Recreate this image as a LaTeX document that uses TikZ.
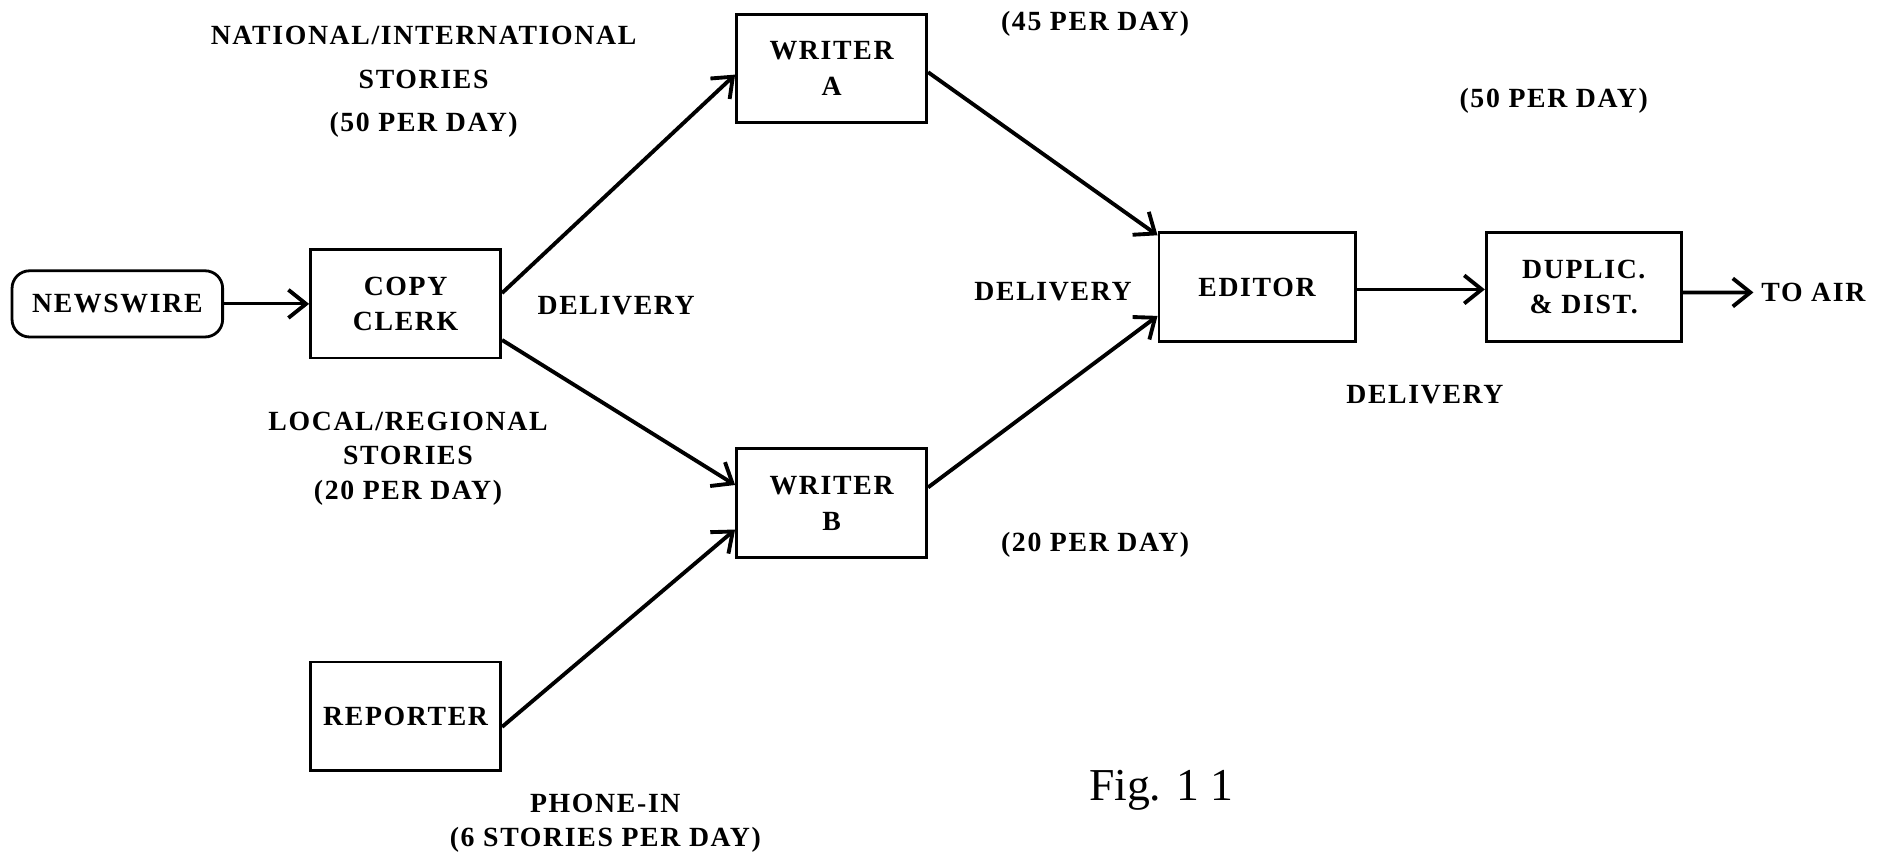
\documentclass[tikz,border=0pt]{standalone}
\usepackage{fontspec}
\setmainfont{Liberation Serif}
\newfontfamily\labfont[LetterSpace=6]{Liberation Serif}
\usetikzlibrary{arrows.meta,calc}
\tikzset{
  lab/.style={align=center, inner sep=0pt, font=\labfont\bfseries\fontsize{7.9}{10.2}\selectfont},
  box/.style={draw, line width=0.8pt, align=center, inner sep=0pt,
    minimum width={158*0.012034cm}, minimum height={90*0.012034cm},
    font=\labfont\bfseries\fontsize{7.9}{10.2}\selectfont},
  arr/.style={-{Straight Barb[length=5pt,width=8pt,line width=1.1pt]}, line width=1.1pt},
}
\begin{document}
\begin{tikzpicture}[x=0.012034cm, y=-0.012034cm]
\useasboundingbox (0,0) rectangle (1568,711);
% boxes
\node[box, rounded corners=5pt, minimum width={175*0.012034cm}, minimum height={55*0.012034cm}] (nw) at (97.5,252.5) {NEWSWIRE};
\node[box] (cc) at (337,252.5) {COPY\\CLERK};
\node[box] (wa) at (691,57) {WRITER\\A};
\node[box] (wb) at (691,418) {WRITER\\B};
\node[box] (rep) at (337,595) {REPORTER};
\node[box, minimum width={163*0.012034cm}, minimum height={91*0.012034cm}] (ed) at (1044.5,238.5) {EDITOR};
\node[box, minimum width={162*0.012034cm}, minimum height={91*0.012034cm}] (du) at (1316,238.5) {DUPLIC.\\\& DIST.};
\coordinate (air) at (1457,243);
\node[lab, anchor=west] (toair) at (1463,243) {TO AIR};
% connectors
\draw[arr, line width=0.9pt] (nw.east) -- (cc.west);
\draw[arr] ($(cc.east)+(0,-9)$) -- ($(wa.west)+(0,5)$);
\draw[arr] ($(cc.east)+(0,30)$) -- ($(wb.west)+(0,-15)$);
\draw[arr] ($(rep.east)+(0,9)$) -- ($(wb.west)+(0,22)$);
\draw[arr] ($(wa.east)+(0,3)$) -- ($(ed.west)+(0,-43)$);
\draw[arr] ($(wb.east)+(0,-13)$) -- ($(ed.west)+(0,24)$);
\draw[arr] ($(ed.east)+(0,2)$) -- ($(du.west)+(0,2)$);
\draw[arr] ($(du.east)+(0,4.5)$) -- (air);
% labels
\node[lab, font=\labfont\bfseries\fontsize{7.9}{12.3}\selectfont] (nat) at (352,68) {NATIONAL/INTERNATIONAL\\STORIES\\(50 PER DAY)};
\node[lab] (del1) at (512,254) {DELIVERY};
\node[lab] (p45) at (910,20) {(45 PER DAY)};
\node[lab] (p50) at (1291,84) {(50 PER DAY)};
\node[lab] (del2) at (875,242) {DELIVERY};
\node[lab] (del3) at (1184,328) {DELIVERY};
\node[lab, font=\labfont\bfseries\fontsize{7.9}{9.8}\selectfont] (loc) at (339,381) {LOCAL/REGIONAL\\STORIES\\(20 PER DAY)};
\node[lab] (p20) at (910,453) {(20 PER DAY)};
\node[lab, font=\labfont\bfseries\fontsize{7.9}{9.8}\selectfont] (ph) at (503,684) {PHONE-IN\\(6 STORIES PER DAY)};
\node[inner sep=0pt, font=\fontsize{13}{15}\selectfont] (fig) at (965,657) {Fig. 1 1};
\end{tikzpicture}
\end{document}
